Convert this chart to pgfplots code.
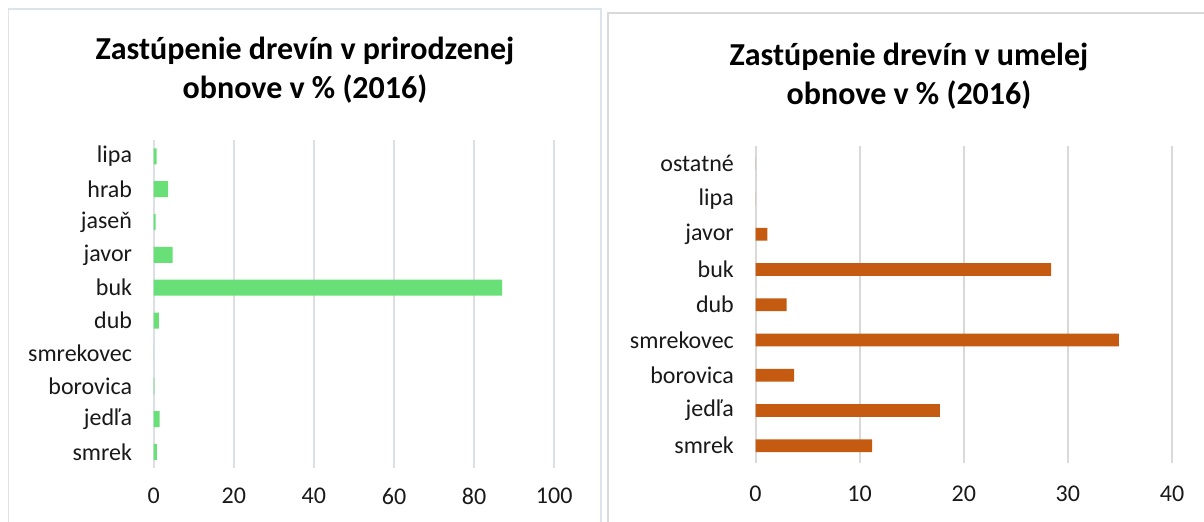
\documentclass[border=0pt]{standalone}
\usepackage{fontspec}
\setmainfont{Carlito}
\usepackage{pgfplots}
\pgfplotsset{compat=1.18}
\definecolor{bargreen}{HTML}{69E077}
\definecolor{barorange}{HTML}{C55A11}
\definecolor{gridL}{HTML}{DCE0E6}
\definecolor{gridR}{HTML}{D9D9D9}
\definecolor{frameL}{HTML}{DDE3EA}
\definecolor{frameR}{HTML}{D9D9D9}
\begin{document}
\begin{tikzpicture}
\useasboundingbox (0,0) rectangle (602pt,260.5pt);
\clip (0,0) rectangle (602pt,260.5pt);
% panel frames
\draw[frameL, line width=0.9pt] (4.25pt,-10pt) -- (4.25pt,256pt) -- (300.6pt,256pt) -- (300.6pt,-10pt);
\draw[frameR, line width=0.9pt] (303.8pt,-10pt) -- (303.8pt,254pt) -- (620pt,254pt);
% titles
\node[anchor=base, font=\fontsize{16}{19.5}\selectfont\bfseries] at (152.5pt,230.85pt) {Zastúpenie drevín v prirodzenej};
\node[anchor=base, font=\fontsize{16}{19.5}\selectfont\bfseries] at (152.5pt,211.35pt) {obnove v \% (2016)};
\node[anchor=base, font=\fontsize{16}{19.5}\selectfont\bfseries] at (454.5pt,227.65pt) {Zastúpenie drevín v umelej};
\node[anchor=base, font=\fontsize{16}{19.5}\selectfont\bfseries] at (454.5pt,208.5pt) {obnove v \% (2016)};

% left chart
\begin{axis}[
  at={(76.85pt,26.35pt)}, anchor=south west,
  scale only axis, width=200.25pt, height=164.15pt,
  xbar, bar width=8pt,
  xmin=0, xmax=100, xtick={0,20,40,60,80,100},
  ymin=-0.5, ymax=9.5, ytick={0,...,9},
  yticklabels={smrek,jedľa,borovica,smrekovec,dub,buk,javor,jaseň,hrab,lipa},
  xmajorgrids, major grid style={gridL, line width=1pt},
  axis line style={draw=none}, major tick length=0pt,
  tick label style={font=\fontsize{12}{14}\selectfont, text=black!90},
  /pgf/number format/assume math mode=true,
  xticklabel style={yshift=-6.5pt},
  yticklabel style={xshift=-7.3pt},
  clip=false,
]
\addplot[fill=bargreen, draw=none] coordinates {
 (0.8,0) (1.5,1) (0.15,2) (0,3) (1.3,4) (87.0,5) (4.7,6) (0.5,7) (3.6,8) (0.75,9)
};
\end{axis}

% right chart
\begin{axis}[
  at={(377.75pt,28.85pt)}, anchor=south west,
  scale only axis, width=208.25pt, height=158.65pt,
  xbar, bar width=6.35pt,
  xmin=0, xmax=40, xtick={0,10,20,30,40},
  ymin=-0.5, ymax=8.5, ytick={0,...,8},
  yticklabels={smrek,jedľa,borovica,smrekovec,dub,buk,javor,lipa,ostatné},
  xmajorgrids, major grid style={gridR, line width=1pt},
  axis line style={draw=none}, major tick length=0pt,
  tick label style={font=\fontsize{12}{14}\selectfont, text=black!90},
  /pgf/number format/assume math mode=true,
  xticklabel style={yshift=-8pt},
  yticklabel style={xshift=-7.3pt},
  clip=false,
]
\addplot[fill=barorange, draw=none] coordinates {
 (11.2,0) (17.7,1) (3.7,2) (34.9,3) (3.0,4) (28.4,5) (1.15,6) (0,7) (0,8)
};
\end{axis}
\end{tikzpicture}
\end{document}
